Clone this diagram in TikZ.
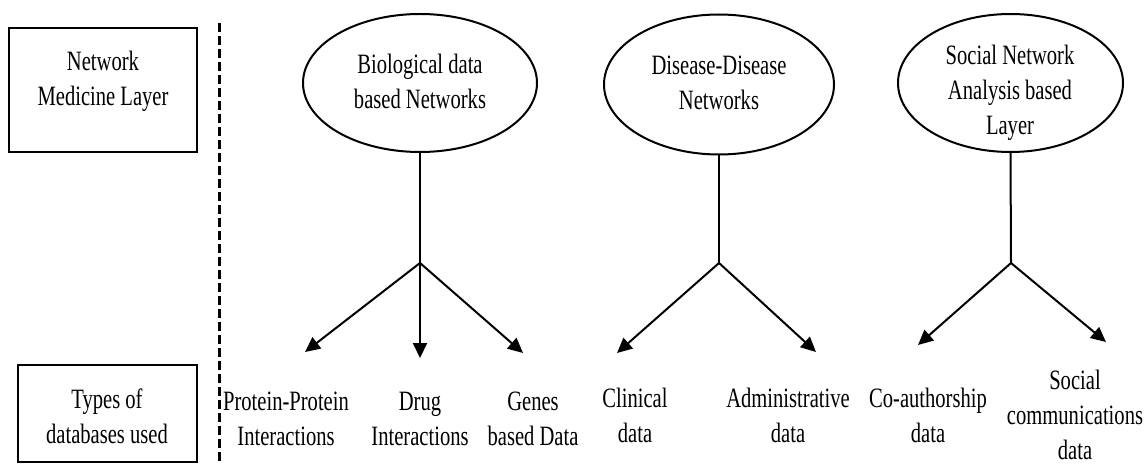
\documentclass[tikz,border=0pt]{standalone}
\usepackage{fontspec}
\newfontfamily\tnr[FakeStretch=0.735]{Liberation Serif}
\usetikzlibrary{shapes.geometric,arrows.meta}
\begin{document}
\begin{tikzpicture}[x=1pt,y=-1pt,
  lbl/.style={font=\tnr\fontsize{28}{35}\selectfont, align=center, inner sep=0pt},
  box/.style={draw, line width=2pt, rectangle, inner sep=0pt},
  oval/.style={draw, line width=2pt, ellipse, inner sep=0pt},
  link/.style={line width=2pt},
  arr/.style={line width=2pt, -{Triangle[length=15pt,width=14pt]}},
  divider/.style={line width=3pt, dash pattern=on 9pt off 4pt}]
\useasboundingbox (0,0) rectangle (1145,465);

% layer labels on the left
\node[box, minimum width=188pt, minimum height=124pt] (topbox) at (103,90) {};
\node[lbl] (toptext) at (103,81) {Network\\Medicine Layer};
\node[box, minimum width=179pt, minimum height=97pt] (botbox) at (107.5,413.5) {};
\node[lbl] (bottext) at (107,416) {Types of\\databases used};

% dashed divider
\coordinate (dtop) at (219,23);
\coordinate (dbot) at (219,466);
\draw[divider] (dtop) -- (dbot);

% network kinds
\node[oval, minimum width=234pt, minimum height=138pt] (bio) at (420,83) {};
\node[lbl] (biotext) at (420,81) {Biological data\\based Networks};
\node[oval, minimum width=230pt, minimum height=140pt] (dis) at (719,84.5) {};
\node[lbl] (distext) at (719,83) {Disease-Disease\\Networks};
\node[oval, minimum width=225pt, minimum height=138pt] (soc) at (1010.5,83) {};
\node[lbl] (soctext) at (1010,93) {Social Network\\Analysis based\\Layer};

% database kinds
\node[lbl] (ppi) at (286,419) {Protein-Protein\\Interactions};
\node[lbl] (drug) at (420,419) {Drug\\Interactions};
\node[lbl] (genes) at (533,419) {Genes\\based Data};
\node[lbl] (clin) at (635,415) {Clinical\\data};
\node[lbl] (adm) at (788,415) {Administrative\\data};
\node[lbl] (coa) at (928,415) {Co-authorship\\data};
\node[lbl] (scd) at (1075,415) {Social\\communications\\data};

% branch points and arrow tips
\coordinate (bioJ) at (420,263);
\coordinate (disJ) at (719,263);
\coordinate (socJ) at (1011,263);
\coordinate (ppiT) at (305,352);
\coordinate (drugT) at (420,358);
\coordinate (genesT) at (523,353);
\coordinate (clinT) at (617,353);
\coordinate (admT) at (816,352);
\coordinate (coaT) at (918,345);
\coordinate (scdT) at (1106,342);

\draw[link] (bio.south) -- (bioJ);
\draw[link] (dis.south) -- (disJ);
\draw[link] (soc.south) -- (socJ);
\draw[arr] (bioJ) -- (ppiT);
\draw[arr] (bioJ) -- (drugT);
\draw[arr] (bioJ) -- (genesT);
\draw[arr] (disJ) -- (clinT);
\draw[arr] (disJ) -- (admT);
\draw[arr] (socJ) -- (coaT);
\draw[arr] (socJ) -- (scdT);
\end{tikzpicture}
\end{document}
